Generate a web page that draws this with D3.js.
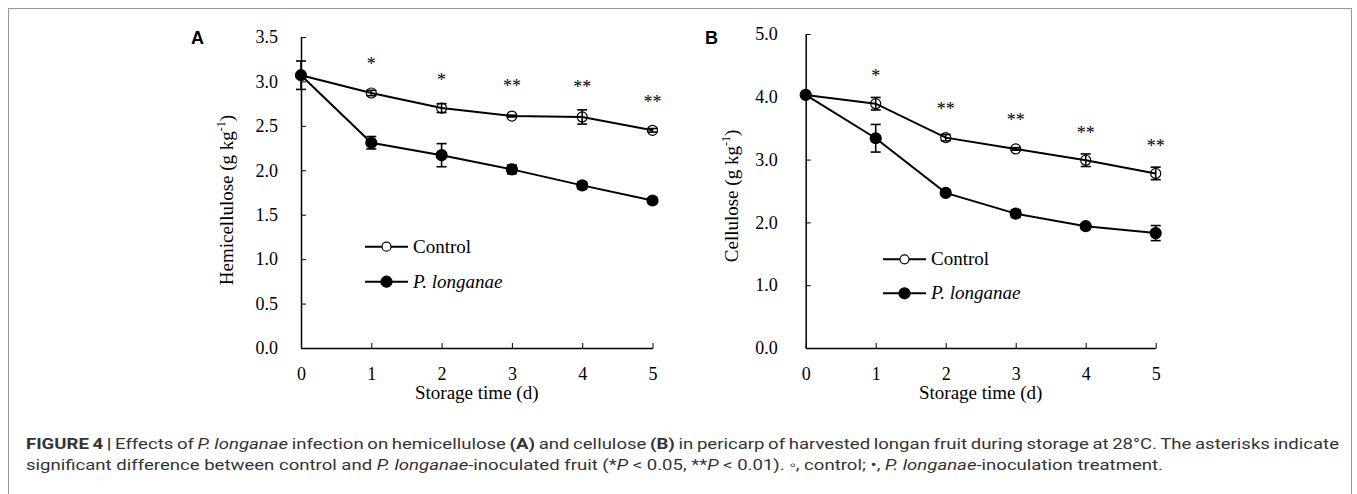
<!DOCTYPE html>
<html lang="en"><head>
<meta charset="utf-8">
<title>Figure 4</title>
<script src="https://cdn.jsdelivr.net/npm/d3@7"></script>
<style>
  body { margin: 0; background: #fff; }
  svg text { font-family: "Liberation Serif", "Times New Roman", serif; fill: #000; }
  svg text.cap { font-family: Roboto, "Liberation Sans", sans-serif; fill: #333; }
  svg text.letter { font-family: "Liberation Sans", Arial, sans-serif; font-weight: bold; }
</style>
</head>
<body>
<script type="text/javascript">

var width = 1357;
var height = 494;

// storage days
var days = [0, 1, 2, 3, 4, 5];

// panel A: hemicellulose (g/kg)
var hemiControl    = [3.07, 2.87, 2.70, 2.61, 2.60, 2.45];
var hemiControlErr = [0.16, 0.03, 0.05, 0.01, 0.08, 0.02];
var hemiLong       = [3.07, 2.31, 2.17, 2.01, 1.83, 1.66];
var hemiLongErr    = [0, 0.07, 0.13, 0.05, 0.04, 0.03];
var hemiStars      = ["", "*", "*", "**", "**", "**"];
var hemiStarVals   = [0, 3.22, 3.04, 2.97, 2.96, 2.79];
var hemiTicks      = [0, 0.5, 1.0, 1.5, 2.0, 2.5, 3.0, 3.5];

// panel B: cellulose (g/kg)
var celControl    = [4.03, 3.89, 3.35, 3.17, 2.99, 2.78];
var celControlErr = [0, 0.10, 0.05, 0.02, 0.10, 0.10];
var celLong       = [4.03, 3.34, 2.47, 2.14, 1.94, 1.83];
var celLongErr    = [0, 0.22, 0.03, 0.06, 0.03, 0.12];
var celStars      = ["", "*", "**", "**", "**", "**"];
var celStarVals   = [0, 4.37, 3.83, 3.66, 3.45, 3.25];
var celTicks      = [0, 1.0, 2.0, 3.0, 4.0, 5.0];

var svg = d3.select("body").append("svg")
            .attr("width", width)
            .attr("height", height);

// frame round the figure
svg.append("rect")
    .attr("x", 8.5).attr("y", 8.5)
    .attr("width", 1343).attr("height", 500)
    .attr("fill", "none")
    .attr("stroke", "#999")
    .attr("stroke-width", 1);

function drawPanel(opt) {
    var x = d3.scaleLinear().domain([0, 5]).range([opt.x0, opt.x1]);
    var y = d3.scaleLinear().domain([0, opt.ymax]).range([348, opt.ytop]);
    var g = svg.append("g");

    // axes
    g.append("g")
        .attr("transform", "translate(0,348)")
        .call(d3.axisBottom(x).tickValues(days).tickFormat(d3.format("d"))
            .tickSizeInner(-5).tickSizeOuter(0).tickPadding(19))
        .call(a => a.select(".domain").attr("stroke-width", 1.5))
        .call(a => a.selectAll("text").attr("font-size", 18));
    g.append("g")
        .attr("transform", "translate(" + opt.x0 + ",0)")
        .call(d3.axisLeft(y).tickValues(opt.ticks).tickFormat(d3.format(".1f"))
            .tickSizeInner(-5).tickSizeOuter(0).tickPadding(opt.pad))
        .call(a => a.select(".domain").attr("stroke-width", 1.5))
        .call(a => a.selectAll("text").attr("font-size", 18));

    // axis titles
    g.append("text")
        .attr("x", (opt.x0 + opt.x1) / 2).attr("y", 399)
        .attr("text-anchor", "middle").attr("font-size", 19)
        .text("Storage time (d)");
    var yt = g.append("text")
        .attr("transform", "translate(" + opt.ytx + "," + opt.yty + ") rotate(-90)")
        .attr("text-anchor", "middle").attr("font-size", 19);
    yt.append("tspan").text(opt.ytitle + " (g kg");
    yt.append("tspan").attr("font-size", 12).attr("dy", -8).text("-1");
    yt.append("tspan").attr("dy", 8).text(")");

    // panel letter
    svg.append("text").attr("class", "letter")
        .attr("x", opt.lx).attr("y", 44)
        .attr("font-size", 18)
        .text(opt.letter);

    var line = d3.line().x((d, i) => x(days[i])).y(d => y(d));

    [[opt.long, opt.longErr, true], [opt.ctrl, opt.ctrlErr, false]].forEach(function(s) {
        var vals = s[0], errs = s[1], filled = s[2];
        var pts = vals.map((v, i) => ({day: days[i], v: v, e: errs[i]}));
        g.append("path").datum(vals)
            .attr("d", line)
            .attr("fill", "none").attr("stroke", "#000").attr("stroke-width", 2);
        var eb = g.append("g").selectAll("g").data(pts.filter(p => p.e > 0)).enter()
            .append("g").attr("stroke", "#000").attr("stroke-width", 1.6);
        eb.append("line")
            .attr("x1", p => x(p.day)).attr("x2", p => x(p.day))
            .attr("y1", p => y(p.v + p.e)).attr("y2", p => y(p.v - p.e));
        [1, -1].forEach(function(k) {
            eb.append("line")
                .attr("x1", p => x(p.day) - 5).attr("x2", p => x(p.day) + 5)
                .attr("y1", p => y(p.v + k * p.e)).attr("y2", p => y(p.v + k * p.e));
        });
        g.append("g").selectAll("circle").data(pts.filter(p => filled || p.day > 0)).enter()
            .append("circle")
            .attr("cx", p => x(p.day))
            .attr("cy", p => y(p.v))
            .attr("r", filled ? 5.5 : 5)
            .attr("fill", filled ? "#000" : "none")
            .attr("stroke", "#000").attr("stroke-width", 1.2);
    });

    // significance stars
    g.append("g").selectAll("text").data(opt.stars).enter()
        .append("text")
        .attr("x", (d, i) => x(days[i]))
        .attr("y", (d, i) => y(opt.starVals[i]) + 8)
        .attr("text-anchor", "middle").attr("font-size", 18)
        .attr("fill", "#222")
        .text(d => d);

    // legend
    var leg = [["Control", false], ["P. longanae", true]];
    leg.forEach(function(l, i) {
        var ly = opt.legY[i];
        g.append("line")
            .attr("x1", opt.legX).attr("x2", opt.legX + 43)
            .attr("y1", ly).attr("y2", ly)
            .attr("stroke", "#000").attr("stroke-width", 2);
        g.append("circle")
            .attr("cx", opt.legX + 21.5).attr("cy", ly)
            .attr("r", l[1] ? 5.5 : 4.5)
            .attr("fill", l[1] ? "#000" : "#fff")
            .attr("stroke", "#000").attr("stroke-width", 1.2);
        g.append("text")
            .attr("x", opt.legX + 48).attr("y", ly + 6)
            .attr("font-size", 19)
            .attr("font-style", l[1] ? "italic" : "normal")
            .text(l[0]);
    });
}

drawPanel({
    x0: 301, x1: 652.5, ytop: 37, ymax: 3.5, ticks: hemiTicks, pad: 23,
    ytitle: "Hemicellulose", ytx: 233, yty: 200, letter: "A", lx: 191,
    ctrl: hemiControl, ctrlErr: hemiControlErr, long: hemiLong, longErr: hemiLongErr,
    stars: hemiStars, starVals: hemiStarVals, legX: 365, legY: [246.7, 281.7]
});

drawPanel({
    x0: 805.7, x1: 1155.7, ytop: 34, ymax: 5, ticks: celTicks, pad: 28,
    ytitle: "Cellulose", ytx: 738, yty: 196, letter: "B", lx: 705,
    ctrl: celControl, ctrlErr: celControlErr, long: celLong, longErr: celLongErr,
    stars: celStars, starVals: celStarVals, legX: 883, legY: [259.3, 293.3]
});

// caption (line 1 is justified to the frame, line 2 is set naturally)
var c1 = svg.append("text").attr("class", "cap")
    .attr("x", 26).attr("y", 449).attr("font-size", 15);
c1.append("tspan").attr("font-weight", "bold").text("FIGURE 4 | ");
c1.append("tspan").text("Effects of ");
c1.append("tspan").attr("font-style", "italic").text("P. longanae");
c1.append("tspan").text(" infection on hemicellulose ");
c1.append("tspan").attr("font-weight", "bold").text("(A)");
c1.append("tspan").text(" and cellulose ");
c1.append("tspan").attr("font-weight", "bold").text("(B)");
c1.append("tspan").text(" in pericarp of harvested longan fruit during storage at 28°C. The asterisks indicate");

var c2 = svg.append("text").attr("class", "cap")
    .attr("x", 26).attr("y", 470).attr("font-size", 15);
c2.append("tspan").text("significant difference between control and ");
c2.append("tspan").attr("font-style", "italic").text("P. longanae");
c2.append("tspan").text("-inoculated fruit (*");
c2.append("tspan").attr("font-style", "italic").text("P");
c2.append("tspan").text(" < 0.05, **");
c2.append("tspan").attr("font-style", "italic").text("P");
c2.append("tspan").text(" < 0.01). \u25E6, control; \u2022, ");
c2.append("tspan").attr("font-style", "italic").text("P. longanae");
c2.append("tspan").text("-inoculation treatment.");

var k = 1137 / c2.node().getComputedTextLength();
c2.attr("textLength", 1137).attr("lengthAdjust", "spacingAndGlyphs");
var n1 = c1.node().getComputedTextLength() * k;
c1.attr("textLength", n1).attr("lengthAdjust", "spacingAndGlyphs");
// adjust the word gaps of line 1 so it ends at the frame edge
var gaps = c1.text().split(" ").length - 1;
c1.attr("word-spacing", (1313 - n1) / gaps / k)
  .attr("textLength", 1313);

</script>
</body></html>
